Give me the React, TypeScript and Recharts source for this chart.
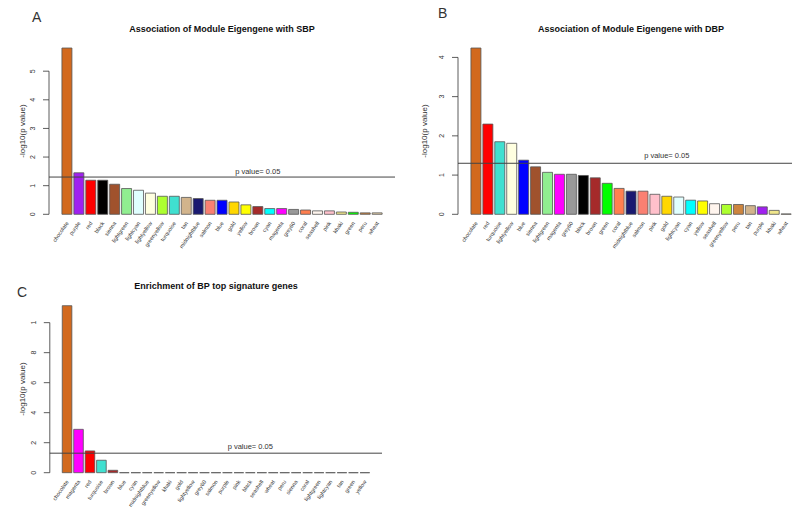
import React from 'react'
import { BarChart, Bar, XAxis, YAxis, ReferenceLine, ReferenceDot } from 'recharts'

// R colour names used by the WGCNA module labels
const MODULE_COLORS: Record<string, string> = {
  chocolate: '#D2691E', purple: '#A020F0', red: '#FF0000', black: '#000000',
  sienna: '#A0522D', lightgreen: '#90EE90', lightcyan: '#E0FFFF', lightyellow: '#FFFFE0',
  greenyellow: '#ADFF2F', turquoise: '#40E0D0', tan: '#D2B48C', midnightblue: '#191970',
  salmon: '#FA8072', blue: '#0000FF', gold: '#FFD700', yellow: '#FFFF00',
  brown: '#A52A2A', cyan: '#00FFFF', magenta: '#FF00FF', grey60: '#999999',
  coral: '#FF7F50', seashell: '#FFF5EE', pink: '#FFC0CB', khaki: '#F0E68C',
  green: '#00FF00', peru: '#CD853F', wheat: '#F5DEB3',
}

const SBP_MODULES = ['chocolate', 'purple', 'red', 'black', 'sienna', 'lightgreen', 'lightcyan',
  'lightyellow', 'greenyellow', 'turquoise', 'tan', 'midnightblue', 'salmon', 'blue', 'gold',
  'yellow', 'brown', 'cyan', 'magenta', 'grey60', 'coral', 'seashell', 'pink', 'khaki', 'green',
  'peru', 'wheat']
const SBP_VALUES = [5.81, 1.45, 1.19, 1.19, 1.05, 0.9, 0.84, 0.74, 0.63, 0.63, 0.59, 0.55, 0.49,
  0.49, 0.43, 0.33, 0.27, 0.2, 0.2, 0.17, 0.15, 0.12, 0.12, 0.08, 0.07, 0.05, 0.05]

const DBP_MODULES = ['chocolate', 'red', 'turquoise', 'lightyellow', 'blue', 'sienna', 'lightgreen',
  'magenta', 'grey60', 'black', 'brown', 'green', 'coral', 'midnightblue', 'salmon', 'pink', 'gold',
  'lightcyan', 'cyan', 'yellow', 'seashell', 'greenyellow', 'peru', 'tan', 'purple', 'khaki', 'wheat']
const DBP_VALUES = [4.24, 2.3, 1.85, 1.81, 1.38, 1.21, 1.07, 1.02, 1.02, 0.99, 0.93, 0.79, 0.66,
  0.59, 0.59, 0.51, 0.46, 0.44, 0.36, 0.34, 0.27, 0.25, 0.25, 0.22, 0.19, 0.1, 0.01]

const BP_MODULES = ['chocolate', 'magenta', 'red', 'turquoise', 'brown', 'blue', 'cyan',
  'midnightblue', 'greenyellow', 'khaki', 'gold', 'lightyellow', 'grey60', 'salmon', 'purple', 'pink',
  'black', 'seashell', 'wheat', 'peru', 'sienna', 'coral', 'lightgreen', 'lightcyan', 'tan', 'green',
  'yellow']
const BP_VALUES = [11.13, 2.89, 1.45, 0.83, 0.16, 0, 0, 0, 0, 0, 0, 0, 0, 0, 0, 0, 0, 0, 0, 0, 0, 0,
  0, 0, 0, 0, 0]

const SBP_TICKS = [0, 1, 2, 3, 4, 5]
const DBP_TICKS = [0, 1, 2, 3, 4]
const BP_TICKS = [0, 2, 4, 6, 8, 10]
const BP_TICK_TEXT = ['0', '2', '4', '6', '8', '1']

const P_CUTOFF = 1.30103 // -log10(0.05)
const P_LABEL = 'p value= 0.05'
const FONT = '"Liberation Sans", Arial, Helvetica, sans-serif'

const YAXIS_W = 40
const XAXIS_H = 30

type Row = { idx: number; name: string; value: number; color: string }

const makeRows = (names: string[], values: number[]): Row[] =>
  names.map((name, i) => ({ idx: i, name, value: values[i], color: MODULE_COLORS[name] }))

const BarShape = (p: any) => {
  const { x, y, width, height, payload } = p
  return (
    <path d={`M${x},${y + height}h${width}V${y}H${x}Z`}
      fill={payload.color} stroke="#555" strokeWidth={0.8} />
  )
}

interface PanelProps {
  rows: Row[]
  left: number; top: number; width: number; height: number
  plotLeft: number; plotRight: number; plotTop: number; plotBottom: number
  ticks: number[]; tickText?: string[]
  barSize: number
  labelY: number
}

function Panel({ rows, left, top, width, height, plotLeft, plotRight, plotTop, plotBottom,
  ticks, tickText, barSize, labelY }: PanelProps) {
  const yMax = Math.max(...rows.map(r => r.value))
  const stepPx = (plotBottom - plotTop) * (ticks[1] - ticks[0]) / yMax
  const lastTick = ticks[ticks.length - 1]

  const renderYTick = (props: any) => {
    const { y, payload } = props
    const v = payload.value
    const i = ticks.indexOf(v)
    const txt = tickText ? tickText[i] : String(v)
    const tx = plotLeft - 14
    return (
      <g>
        <line x1={plotLeft - 6} y1={y} x2={plotLeft} y2={y} stroke="#333" strokeWidth={0.8} />
        {v !== lastTick && (
          <line x1={plotLeft} y1={y} x2={plotLeft} y2={y - stepPx} stroke="#333" strokeWidth={0.8} />
        )}
        <text x={tx} y={y} transform={`rotate(-90 ${tx} ${y})`} textAnchor="middle"
          fontSize={7} fill="#333" fontFamily={FONT}>{txt}</text>
      </g>
    )
  }

  const renderXTick = (props: any) => {
    const { x, payload } = props
    const row = rows[payload.value]
    if (!row) return <g />
    const tx = x + 2
    const ty = plotBottom + 9
    return (
      <text x={tx} y={ty} transform={`rotate(-55 ${tx} ${ty})`} textAnchor="end"
        fontSize={5.5} fill="#333" fontFamily={FONT}>{row.name}</text>
    )
  }

  return (
    <div style={{ position: 'absolute', left, top, width, height }}>
      <BarChart width={width} height={height} data={rows}
        margin={{
          top: plotTop, left: plotLeft - YAXIS_W, right: width - plotRight,
          bottom: height - plotBottom - XAXIS_H,
        }}>
        <XAxis dataKey="idx" type="number" domain={[-1.5, 27.5]} ticks={rows.map(r => r.idx)}
          interval={0} axisLine={false} tickLine={false} height={XAXIS_H} tick={renderXTick} />
        <YAxis type="number" domain={[0, 'dataMax']} ticks={ticks} width={YAXIS_W}
          axisLine={false} tickLine={false} tick={renderYTick} />
        <Bar dataKey="value" barSize={barSize} shape={BarShape} isAnimationActive={false} />
        <ReferenceLine y={P_CUTOFF} stroke="#444" strokeWidth={1} />
        <ReferenceDot x={16} y={labelY} r={1} fill="none" stroke="none"
          label={{ value: P_LABEL, position: 'center', fontSize: 7.5, fill: '#333', fontFamily: FONT }} />
      </BarChart>
    </div>
  )
}

export default function App() {
  const sbp = makeRows(SBP_MODULES, SBP_VALUES)
  const dbp = makeRows(DBP_MODULES, DBP_VALUES)
  const bp = makeRows(BP_MODULES, BP_VALUES)

  return (
    <div style={{ position: 'absolute', left: 0, top: 0, width: 792, height: 507,
      overflow: 'hidden', background: '#fff', fontFamily: FONT }}>
      <Panel rows={sbp} left={0} top={0} width={400} height={260}
        plotLeft={49} plotRight={395} plotTop={48} plotBottom={214.3}
        ticks={SBP_TICKS} barSize={10} labelY={1.5} />
      <Panel rows={dbp} left={400} top={0} width={410} height={260}
        plotLeft={58} plotRight={404} plotTop={48} plotBottom={214.3}
        ticks={DBP_TICKS} barSize={10} labelY={1.5} />
      <Panel rows={bp} left={0} top={260} width={400} height={247}
        plotLeft={49.8} plotRight={382} plotTop={45.7} plotBottom={212.7}
        ticks={BP_TICKS} tickText={BP_TICK_TEXT} barSize={9.6} labelY={1.73} />

      <svg width={792} height={507} style={{ position: 'absolute', left: 0, top: 0, pointerEvents: 'none' }}>
        <g fontFamily={FONT} fill="#333">
          <text x={32} y={22} fontSize={14}>A</text>
          <text x={438} y={18} fontSize={14}>B</text>
          <text x={17} y={297} fontSize={14}>C</text>
        </g>
        <g fontFamily={FONT} fontWeight="bold" fontSize={9} fill="#111" textAnchor="middle">
          <text x={222} y={31.5}>Association of Module Eigengene with SBP</text>
          <text x={631} y={31.5}>Association of Module Eigengene with DBP</text>
          <text x={216} y={289}>Enrichment of BP top signature genes</text>
        </g>
        <g fontFamily={FONT} fontSize={8} fill="#333" textAnchor="middle">
          <text x={25} y={131} transform="rotate(-90 25 131)">-log10(p value)</text>
          <text x={427} y={131} transform="rotate(-90 427 131)">-log10(p value)</text>
          <text x={25} y={389} transform="rotate(-90 25 389)">-log10(p value)</text>
        </g>
      </svg>
    </div>
  )
}
